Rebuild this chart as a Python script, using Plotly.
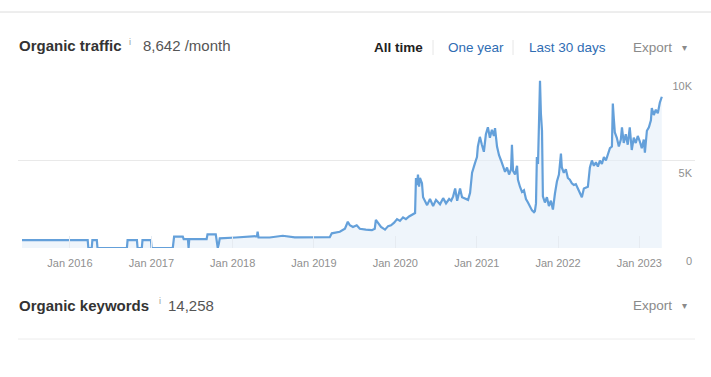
import plotly.graph_objects as go

# ---- data ----
dates = [
    "2015-05-31", "2016-03-21", "2016-03-24", "2016-04-08", "2016-04-11", "2016-05-01", "2016-05-04",
    "2016-09-13", "2016-09-16", "2016-10-28", "2016-10-31", "2016-11-19", "2016-11-22", "2016-12-30",
    "2017-01-02", "2017-04-07", "2017-04-13", "2017-05-22", "2017-05-26", "2017-06-14", "2017-06-17",
    "2017-06-20", "2017-09-06", "2017-09-10", "2017-10-17", "2017-10-22", "2017-10-26", "2017-10-31",
    "2017-11-04", "2018-01-15", "2018-04-10", "2018-04-20", "2018-04-23", "2018-04-27", "2018-06-16",
    "2018-08-14", "2018-10-07", "2019-01-01", "2019-03-13", "2019-03-22", "2019-04-27", "2019-05-20",
    "2019-06-02", "2019-06-11", "2019-06-25", "2019-07-12", "2019-07-26", "2019-08-22", "2019-09-18",
    "2019-10-01", "2019-10-06", "2019-10-15", "2019-10-29", "2019-11-16", "2019-11-30", "2019-12-13",
    "2019-12-27", "2020-01-09", "2020-01-22", "2020-02-05", "2020-02-18", "2020-03-03", "2020-03-16",
    "2020-03-30", "2020-04-03", "2020-04-08", "2020-04-12", "2020-04-17", "2020-04-21", "2020-04-30",
    "2020-05-05", "2020-05-14", "2020-05-23", "2020-06-05", "2020-06-19", "2020-07-02", "2020-07-20",
    "2020-08-03", "2020-08-16", "2020-08-30", "2020-09-08", "2020-09-17", "2020-09-26", "2020-10-05",
    "2020-10-18", "2020-10-27", "2020-11-10", "2020-11-23", "2020-12-02", "2020-12-11", "2020-12-24",
    "2021-01-02", "2021-01-06", "2021-01-15", "2021-01-24", "2021-02-02", "2021-02-11", "2021-02-20",
    "2021-03-01", "2021-03-10", "2021-03-19", "2021-03-24", "2021-04-02", "2021-04-11", "2021-04-20",
    "2021-04-29", "2021-05-08", "2021-05-17", "2021-05-26", "2021-06-04", "2021-06-08", "2021-06-13",
    "2021-06-22", "2021-07-01", "2021-07-05", "2021-07-14", "2021-07-23", "2021-08-01", "2021-08-10",
    "2021-08-19", "2021-08-28", "2021-09-06", "2021-09-15", "2021-09-19", "2021-09-24", "2021-09-28",
    "2021-10-03", "2021-10-07", "2021-10-12", "2021-10-16", "2021-10-21", "2021-10-25", "2021-11-03",
    "2021-11-12", "2021-11-21", "2021-11-30", "2021-12-09", "2021-12-18", "2021-12-27", "2022-01-05",
    "2022-01-14", "2022-01-18", "2022-01-27", "2022-02-05", "2022-02-14", "2022-02-23", "2022-03-04",
    "2022-03-13", "2022-03-22", "2022-03-31", "2022-04-09", "2022-04-18", "2022-04-27", "2022-05-06",
    "2022-05-15", "2022-05-24", "2022-06-02", "2022-06-11", "2022-06-20", "2022-06-29", "2022-07-08",
    "2022-07-17", "2022-07-26", "2022-08-04", "2022-08-13", "2022-08-22", "2022-08-31", "2022-09-04",
    "2022-09-09", "2022-09-13", "2022-09-22", "2022-10-01", "2022-10-10", "2022-10-15", "2022-10-23",
    "2022-11-01", "2022-11-10", "2022-11-19", "2022-11-28", "2022-12-07", "2022-12-16", "2022-12-25",
    "2023-01-03", "2023-01-12", "2023-01-21", "2023-01-26", "2023-02-04", "2023-02-13", "2023-02-22",
    "2023-02-26", "2023-03-07", "2023-03-16", "2023-03-25", "2023-04-03", "2023-04-12",
]
traffic = [
    450, 450, 0, 0, 450, 450, 0,
    0, 450, 450, 0, 0, 450, 450,
    0, 0, 650, 650, 510, 510, 0,
    510, 510, 780, 780, 300, 0, 250,
    550, 600, 690, 680, 930, 600, 600,
    700, 610, 600, 620, 840, 930, 1100,
    1500, 1300, 1200, 1300, 1100, 1050, 1020,
    1100, 1600, 1450, 1200, 1050, 1250, 1300,
    1450, 1650, 1550, 1750, 1650, 1800, 1900,
    2000, 4000, 3600, 4200, 3500, 4000, 3700,
    2900, 2700, 2450, 2800, 2400, 2750, 2500,
    2850, 2550, 2800, 2700, 2950, 3400, 2700,
    3400, 2900, 2800, 2750, 3150, 4300, 4850,
    5200, 5800, 6350, 5900, 5500, 6500, 6900,
    6300, 6750, 6400, 6850, 5800, 5300, 5000,
    4700, 4350, 4600, 4200, 4500, 5900, 4400,
    4200, 4700, 3900, 3500, 3200, 3300, 2800,
    2600, 2350, 2150, 2050, 2100, 2550, 5200,
    4800, 7500, 9550, 7700, 6700, 2950, 2600,
    2900, 2400, 2700, 2200, 3100, 3800, 4200,
    5400, 4600, 4300, 4500, 4000, 3900, 3700,
    3600, 3650, 3400, 3100, 2900, 3400, 3450,
    3500, 4600, 5000, 4700, 4900, 4650, 5000,
    4800, 5200, 5000, 5400, 5700, 5800, 8250,
    7300, 6600, 6300, 5800, 6200, 6900, 6000,
    6500, 5900, 6900, 5600, 6300, 6000, 6400,
    6100, 5700, 6200, 5450, 6700, 6900, 7300,
    8000, 7600, 7900, 7700, 8300, 8642,
]
x_tick_dates = ["2016-01-01", "2017-01-01", "2018-01-01", "2019-01-01",
                "2020-01-01", "2021-01-01", "2022-01-01", "2023-01-01"]
x_tick_labels = ["Jan 2016", "Jan 2017", "Jan 2018", "Jan 2019",
                 "Jan 2020", "Jan 2021", "Jan 2022", "Jan 2023"]
y_tick_vals = [0, 5000, 10000]
y_tick_labels = ["0", "5K", "10K"]
x_range = ["2015-05-13", "2023-09-08"]

W, H = 711, 377
FONT = "Liberation Sans, Arial, Helvetica, sans-serif"

def px(x):
    return x / W

def py(y):
    return 1 - y / H

fig = go.Figure()
fig.add_trace(go.Scatter(
    x=dates, y=traffic, mode="lines",
    line=dict(color="#64a0da", width=2.2),
    fill="tozeroy", fillcolor="rgba(228,238,249,0.6)",
    hoverinfo="skip", showlegend=False,
))

fig.update_layout(
    width=W, height=H, autosize=False,
    margin=dict(l=0, r=0, t=0, b=0, pad=0, autoexpand=False),
    paper_bgcolor="white", plot_bgcolor="rgba(0,0,0,0)",
    font=dict(family=FONT),
    xaxis=dict(
        domain=[px(18), px(695)], range=x_range, type="date", automargin=False,
        tickvals=x_tick_dates, ticktext=x_tick_labels,
        tickfont=dict(size=11, color="#8f8f8f"),
        ticks="inside", ticklen=12, tickcolor="#e6ebf1", tickwidth=1,
        showgrid=False, zeroline=False, showline=False,
        ticklabelstandoff=7, fixedrange=True,
    ),
    yaxis=dict(
        domain=[py(248), py(73)], range=[0, 10000], automargin=False,
        side="right", tickvals=y_tick_vals, ticktext=y_tick_labels,
        ticklabelposition="inside", ticklabelshift=13, ticklabeloverflow="allow",
        tickfont=dict(size=11, color="#8f8f8f"),
        showgrid=True, gridcolor="#e9e9e9", gridwidth=1,
        zeroline=False, showline=False, ticks="", fixedrange=True,
    ),
)

shapes = [
    dict(type="line", xref="paper", yref="paper", x0=0, x1=1, y0=py(12), y1=py(12),
         line=dict(color="#dcdcdc", width=1)),
    dict(type="line", xref="paper", yref="paper", x0=px(433), x1=px(433), y0=py(40), y1=py(55),
         line=dict(color="#e6e6e6", width=1)),
    dict(type="line", xref="paper", yref="paper", x0=px(513), x1=px(513), y0=py(40), y1=py(55),
         line=dict(color="#e6e6e6", width=1)),
    dict(type="line", xref="paper", yref="paper", x0=px(18), x1=px(695), y0=py(339), y1=py(339),
         line=dict(color="#ececec", width=1)),
]
fig.update_layout(shapes=shapes)

def ann(text, x, y, size, color, bold=False, xanchor="left"):
    t = f"<b>{text}</b>" if bold else text
    fig.add_annotation(text=t, x=px(x), y=py(y), xref="paper", yref="paper",
                       xanchor=xanchor, yanchor="middle", showarrow=False,
                       font=dict(size=size, color=color, family=FONT))

ann("Organic traffic", 17, 46, 15, "#333333", bold=True)
ann("i", 127, 42, 9, "#999999")
ann("8,642 /month", 141, 46, 15, "#555555")
ann("All time", 372, 47, 13.5, "#222222", bold=True)
ann("One year", 446, 47, 13.5, "#2f6db3")
ann("Last 30 days", 527, 47, 13.5, "#2f6db3")
ann("Export", 631, 47, 13.5, "#8a8a8a")
ann("▾", 680, 47, 10, "#8a8a8a")
ann("Organic keywords", 17, 305, 15, "#333333", bold=True)
ann("i", 157, 301, 9, "#999999")
ann("14,258", 166, 305, 15, "#555555")
ann("Export", 631, 305, 13.5, "#8a8a8a")
ann("▾", 680, 305, 10, "#8a8a8a")

fig.write_html("out.html", config={"displayModeBar": False},
               post_script="document.body.style.margin='0';")
